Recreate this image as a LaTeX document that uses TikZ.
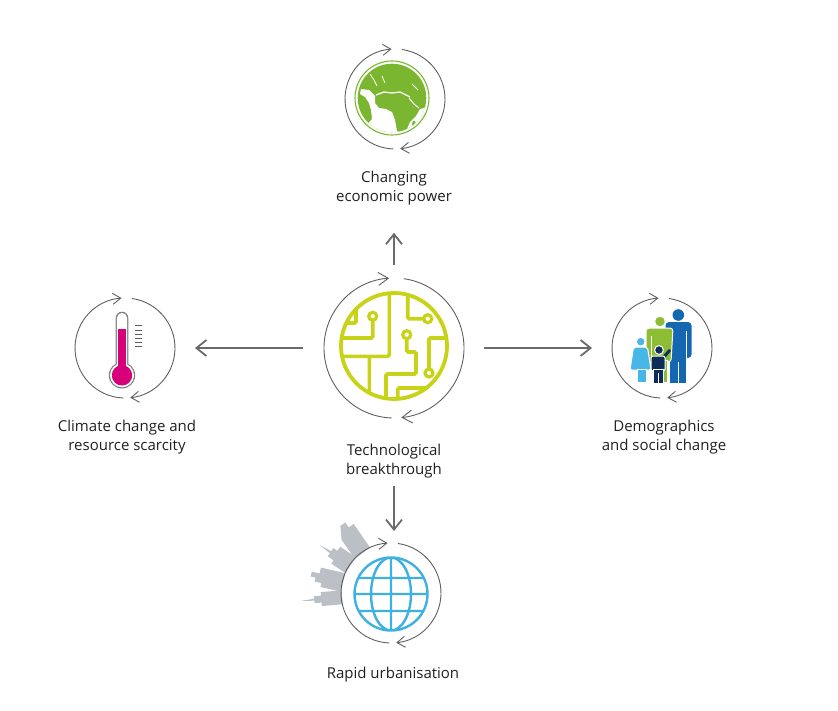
\documentclass[tikz,border=0pt]{standalone}
\usepackage{fontspec}
\setmainfont{Open Sans}
\usetikzlibrary{arrows.meta}

\definecolor{ringgray}{RGB}{95,95,97}
\definecolor{arrowgray}{RGB}{105,106,108}
\definecolor{txt}{RGB}{35,31,32}
\definecolor{chipgreen}{RGB}{200,210,22}
\definecolor{leaf}{RGB}{122,182,48}
\definecolor{thermo}{RGB}{214,0,122}
\definecolor{sky}{RGB}{62,176,226}
\definecolor{towergray}{RGB}{186,192,198}
\definecolor{manblue}{RGB}{21,104,176}
\definecolor{womangreen}{RGB}{140,189,52}
\definecolor{girlblue}{RGB}{72,182,230}
\definecolor{boynavy}{RGB}{14,44,88}

% turning ring round a hub: node, radius, tip length, tip width
\newcommand{\turnring}[4]{%
  \draw[ringline,-{Straight Barb[length=#3,width=#4]}] (#1.268) arc[start angle=268, end angle=94, radius=#2];
  \draw[ringline,-{Straight Barb[length=#3,width=#4]}] (#1.82) arc[start angle=82, end angle=-84, radius=#2];
}

\tikzset{
  hub/.style={circle, inner sep=0pt, outer sep=0pt, minimum size=#1},
  conn/.style={draw=arrowgray, line width=1.8pt, -{Straight Barb[length=10pt,width=16pt]}},
  ringline/.style={draw=ringgray, line width=0.9pt},
  lbl/.style={text=txt, align=center, font=\fontsize{15}{19.5}\selectfont},
  cutout/.style={draw=white, line width=1pt},
}

\begin{document}
\begin{tikzpicture}[x=1pt,y=-1pt]
\useasboundingbox (0,0) rectangle (838,710);

% hubs
\node[hub=140pt] (tech) at (394,348) {};
\node[hub=100pt] (econ) at (395,99) {};
\node[hub=100pt] (clim) at (125,348) {};
\node[hub=100pt] (demo) at (662,348) {};
\node[hub=100pt] (urban) at (391,593) {};

% labels
\node[lbl] (techlbl) at (394,461) {Technological\\breakthrough};
\node[lbl] (econlbl) at (394,188) {Changing\\economic power};
\node[lbl] (climlbl) at (127,437) {Climate change and\\resource scarcity};
\node[lbl] (demolbl) at (664,437) {Demographics\\and social change};
\node[lbl] (urbanlbl) at (393,675) {Rapid urbanisation};

% circuit board
\begin{scope}[shift={(394,346)}]
  \begin{scope}
    \clip (0,0) circle (53);
    \draw[chipgreen, line width=3.6pt, rounded corners=1.5pt]
      (-4.7,-60) -- (-4.7,10.3) -- (-60,10.3)
      (-24.7,10.3) -- (-24.7,60)
      (-21.3,-26) -- (-21.3,-8) -- (-60,-8)
      (-38,-60) -- (-38,-23) -- (-60,-23)
      (13.7,-60) -- (13.7,-27.3) -- (30,-27.3)
      (12.7,-7.6) -- (12.7,6) -- (22,6) -- (22,28) -- (-8,28) -- (-8,60)
      (35,23.3) -- (35,-8) -- (60,-8)
      (3.7,60) -- (3.7,42) -- (60,42);
  \end{scope}
  \draw[chipgreen, line width=3.8pt] (0,0) circle (53);
  \draw[chipgreen, line width=3.2pt, fill=white] (-21.3,-29.7) circle (4) (33.7,-27.3) circle (4)
    (12.7,-11.3) circle (4) (35,27) circle (4);
\end{scope}

% green globe
\begin{scope}[shift={(392,98)}]
  \draw[leaf, line width=1.1pt] (0,0) circle (37);
  \begin{scope}
    \clip (0,0) circle (34.3);
    \fill[leaf] (0,0) circle (35);
    % oceans
    \fill[white] (-31,-9) -- (-23,-8) -- (-17,-2) -- (-17,5) -- (-13,10) -- (-6,11) -- (0,14) -- (3,22)
      -- (5,33) -- (9,37) -- (4,45) -- (-40,45) -- (-40,34) -- (-26,28) -- (-20,21) -- (-21,12)
      -- (-23,5) -- (-27,-1) -- (-32,-4) -- cycle;
    \fill[white] (9,37) -- (15,31) -- (18,24) -- (24,18) -- (28,11) -- (32,10) -- (36,6) -- (40,8)
      -- (45,45) -- (4,45) -- cycle;
    \fill[leaf] (22,27) ellipse (2 and 4.5);
    \draw[white, line width=1.3pt] (-16,-3) -- (-8,-6) -- (0,-5) -- (8,-6) -- (14,-3) -- (18,-1);
    \draw[white, line width=1pt] (17,0) -- (22,6) -- (27,10);
    \draw[white, line width=0.8pt] (-22,-24) -- (-18,-18) -- (-15,-12) (-10,-22) -- (-7,-15)
      (20,-14) -- (26,-8);
  \end{scope}
\end{scope}

% thermometer
\fill[ringgray!80] (115.7,372) -- (115.7,318) arc[start angle=180, end angle=0, radius=6.3pt] -- (128.3,372) -- cycle;
\fill[ringgray!80] (122,375.3) circle (13.2);
\fill[white] (116.9,372) -- (116.9,318) arc[start angle=180, end angle=0, radius=5.1pt] -- (127.1,372) -- cycle;
\fill[white] (122,375.3) circle (12);
\fill[thermo] (118.4,372) rectangle (125.6,329.3);
\fill[thermo] (122,375.3) circle (10.2);
\foreach \t in {325.7,330,334.3,338.5,342.7,346.9}
  \draw[ringgray, line width=0.9pt] (135,\t) -- (141.5,\t);

% family
\fill[manblue] (678.3,315) circle (5.8);
\fill[manblue, rounded corners=3.5pt] (665.5,358) rectangle (691.5,322);
\fill[manblue] (670,355) rectangle (686,383);
\draw[white, line width=1pt] (686.5,331) -- (686.5,359) (678,362) -- (678,384);
\filldraw[womangreen, cutout] (660,321.5) circle (5.4);
\filldraw[womangreen, cutout, rounded corners=3pt] (646,362) -- (646,328) -- (673,328) -- (671,362) -- cycle;
\filldraw[womangreen, cutout] (653,360) rectangle (667,382);
\draw[white, line width=1pt] (651,336) -- (651,362) (660,365) -- (660,383);
\filldraw[girlblue, cutout] (640.7,341.7) circle (4.4);
\filldraw[girlblue, cutout, rounded corners=2pt] (633.5,347) -- (647.5,347) -- (651,370) -- (630,370) -- cycle;
\filldraw[girlblue, cutout] (637,369) rectangle (646,382);
\draw[boynavy, line width=3pt, line cap=round] (663,358) -- (669.5,350.5);
\filldraw[boynavy, cutout] (659,350) circle (4.4);
\filldraw[boynavy, cutout, rounded corners=2pt] (651,356) rectangle (665,371);
\filldraw[boynavy, cutout] (653.5,369) rectangle (663,383.5);
\draw[white, line width=1pt] (658.3,373) -- (658.3,384);

% skyline
\foreach \a/\k in {125/1,146/2,167/3,185/4} {
  \begin{scope}[shift={(391,593)}, rotate=\a]
    \ifcase\k\or
      \fill[towergray] (49,-10) -- (72,-10) -- (84,-3) -- (84,3) -- (78,3) -- (78,9) -- (49,9) -- cycle;
    \or
      \fill[towergray] (49,-9) -- (66,-9) -- (66,-5) -- (73,-5) -- (73,-1.2) -- (86,0) -- (73,1.2) -- (73,5)
        -- (68,5) -- (68,10) -- (49,10) -- cycle;
    \or
      \fill[towergray] (49,-10) -- (70,-10) -- (70,-6) -- (77,-6) -- (77,-2) -- (82,-2) -- (82,3) -- (74,3)
        -- (74,9) -- (49,9) -- cycle;
    \or
      \fill[towergray] (49,-7) -- (70,-7) -- (70,-3.5) -- (77,-3.5) -- (77,-1) -- (90,0) -- (77,1) -- (77,3.5)
        -- (70,3.5) -- (70,7) -- (49,7) -- cycle;
    \fi
  \end{scope}
}

% blue globe
\begin{scope}[shift={(391,594)}]
  \begin{scope}
    \clip (0,0) circle (36.5);
    \draw[sky, line width=2.4pt] (-40,-16) -- (40,-16) (-40,0) -- (40,0) (-40,17) -- (40,17)
      (0,-40) -- (0,40) (0,0) ellipse (20 and 36.5);
  \end{scope}
  \draw[sky, line width=2.4pt] (0,0) circle (36.5);
\end{scope}

% rings
\turnring{tech}{70pt}{10pt}{13pt}
\turnring{econ}{50pt}{8pt}{11pt}
\turnring{clim}{50pt}{8pt}{11pt}
\turnring{demo}{50pt}{8pt}{11pt}
\turnring{urban}{50pt}{8pt}{11pt}

% connectors
\draw[conn, shorten <=13pt, shorten >=24pt] (tech.north) -- (tech.north |- econlbl.south);
\draw[conn, shorten <=21pt, shorten >=20pt] (tech) -- (clim);
\draw[conn, shorten <=20pt, shorten >=20pt] (tech) -- (demo);
\draw[conn, shorten <=4pt, shorten >=12pt] (techlbl.south) -- (techlbl.south |- urban.north);
\end{tikzpicture}
\end{document}
